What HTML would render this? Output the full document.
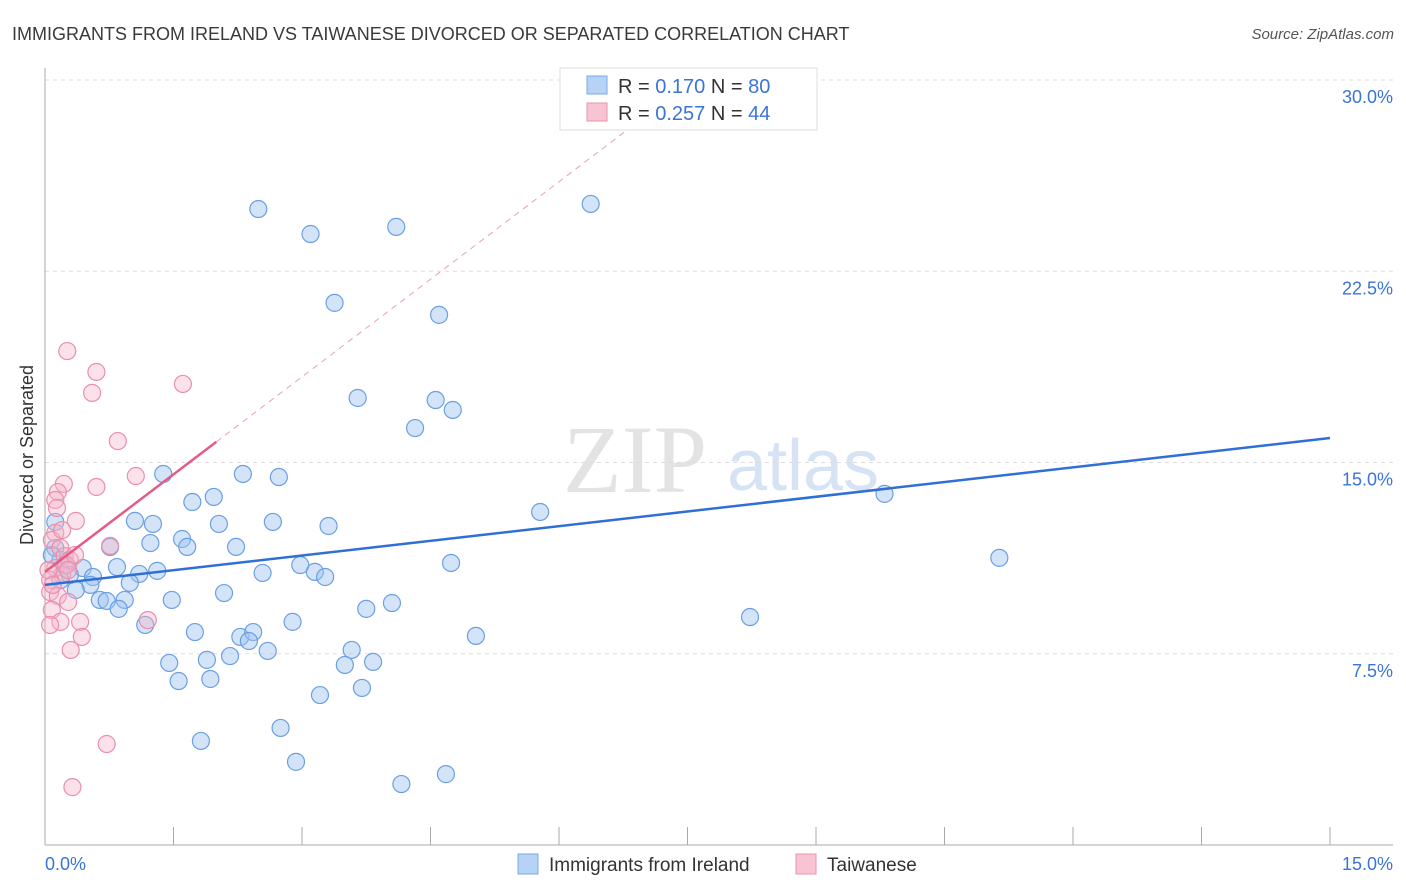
<!DOCTYPE html>
<html><head><meta charset="utf-8"><style>
body{margin:0;background:#fff;font-family:"Liberation Sans",sans-serif}
svg{display:block}
</style></head><body>
<svg id="c" width="1406" height="892">
<text x="12" y="40" font-size="18" fill="#3a3a3a">IMMIGRANTS FROM IRELAND VS TAIWANESE DIVORCED OR SEPARATED CORRELATION CHART</text>
<text x="1394" y="39" font-size="15" fill="#555" font-style="italic" text-anchor="end">Source: ZipAtlas.com</text>
<text x="33" y="455" font-size="18" fill="#333" text-anchor="middle" transform="rotate(-90 33 455)">Divorced or Separated</text>
<g>
<text x="635" y="492" font-size="96" fill="#e3e3e3" font-family="Liberation Serif,serif" text-anchor="middle">ZIP</text>
<text x="803" y="490" font-size="72" fill="#d6e3f5" text-anchor="middle">atlas</text>
</g>
<g id="grid"></g><g id="axes"></g><g id="pts"></g><g id="lines"></g>
<g>
<rect x="560" y="68" width="257" height="62" fill="#fff" stroke="#ddd"/>
<rect x="587" y="76" width="20" height="18" fill="#b6d2f5" stroke="#7aa8e6"/>
<rect x="587" y="103" width="20" height="18" fill="#f8c4d4" stroke="#e993ae"/>
<text x="618" y="93" font-size="20" fill="#333">R = <tspan fill="#3a74d6">0.170</tspan>   N = <tspan fill="#3a74d6">80</tspan></text>
<text x="618" y="120" font-size="20" fill="#333">R = <tspan fill="#3a74d6">0.257</tspan>   N = <tspan fill="#3a74d6">44</tspan></text>
</g>
<g>
<rect x="518" y="854" width="20" height="20" fill="#b6d2f5" stroke="#7aa8e6"/>
<text x="549" y="871" font-size="19" fill="#333">Immigrants from Ireland</text>
<rect x="796" y="854" width="20" height="20" fill="#f8c4d4" stroke="#e993ae"/>
<text x="827" y="871" font-size="19" fill="#333">Taiwanese</text>
</g>
</svg>
<script>
const yTicks=[7.5,15,22.5,30];
const yTickLabels=["7.5%","15.0%","22.5%","30.0%"];
const blueX=[2.49,3.10,4.10,6.37,3.38,4.60,3.65,4.56,4.76,4.32,1.38,2.31,2.73,1.72,1.97,5.78,9.80,1.05,1.26,2.03,2.66,3.31,1.23,1.60,1.66,2.23,0.76,11.14,4.74,2.98,3.15,3.27,2.54,1.10,1.31,0.84,0.44,0.56,0.53,0.99,0.36,2.09,1.48,0.64,0.72,0.93,0.86,4.05,3.75,1.17,2.89,1.75,2.28,2.43,2.38,5.03,8.23,3.58,2.60,1.89,2.16,1.45,3.50,3.83,1.56,1.93,3.70,3.21,2.75,1.82,2.93,4.16,4.68,0.12,0.12,0.18,0.23,0.29,0.18,0.08];
const blueY=[24.94,23.96,24.24,25.14,21.26,20.79,17.53,17.45,17.06,16.35,14.55,14.55,14.43,13.45,13.65,13.06,13.77,12.71,12.59,12.59,12.67,12.51,11.84,12.00,11.69,11.69,11.69,11.26,11.06,10.98,10.71,10.51,10.67,10.63,10.75,10.90,10.86,10.51,10.20,10.28,10.00,9.88,9.61,9.61,9.57,9.61,9.26,9.49,9.26,8.63,8.75,8.35,8.16,8.35,8.00,8.20,8.94,7.65,7.61,7.26,7.41,7.14,7.06,7.18,6.43,6.51,6.16,5.88,4.59,4.08,3.26,2.39,2.78,12.67,11.65,11.18,10.98,10.59,10.39,11.37];
const pinkX=[0.26,0.60,0.55,1.61,0.85,1.06,0.22,0.60,0.15,0.12,0.14,0.36,0.12,0.08,0.18,0.23,0.29,0.12,0.20,0.06,0.06,0.15,0.27,0.08,1.20,0.41,0.18,0.06,0.43,0.30,0.72,0.32,0.76,0.25,0.04,0.09,0.35,0.20,0.27];
const pinkY=[19.37,18.55,17.73,18.08,15.84,14.47,14.16,14.04,13.84,13.53,13.22,12.71,12.24,11.96,11.65,11.33,11.18,10.86,10.59,10.39,9.92,9.77,9.53,9.22,8.82,8.75,8.75,8.63,8.16,7.65,3.96,2.27,11.73,10.98,10.78,10.20,11.37,12.35,10.78];
const blueTrend=[10.20,15.96];
const pinkTrend=[10.71,2.55];
const NS="http://www.w3.org/2000/svg";
const X0=45,X1=1330,Y0=845,Y30=80;
const sx=v=>X0+v/15*(X1-X0);
const sy=v=>Y0-v/30*(Y0-Y30);
function mk(t,a,p){const e=document.createElementNS(NS,t);for(const k in a)e.setAttribute(k,a[k]);p.appendChild(e);return e;}
const grid=document.getElementById('grid'),axes=document.getElementById('axes'),pts=document.getElementById('pts'),lines=document.getElementById('lines');
yTicks.forEach((t,i)=>{
 const g=mk('line',{x1:X0,x2:1393,y1:sy(t),y2:sy(t),stroke:'#ddd','stroke-dasharray':'4,4'},grid);
 
 
 const l=mk('text',{x:1393,y:sy(t)+23,'font-size':18,fill:'#3a74d6','text-anchor':'end'},axes);
 l.textContent=yTickLabels[i];
 
 
});
mk('line',{x1:X0,x2:X0,y1:68,y2:Y0,stroke:'#aaa'},axes);
mk('line',{x1:X0,x2:1393,y1:Y0,y2:Y0,stroke:'#aaa'},axes);
for(let i=0;i<=10;i++){const x=sx(i*1.5);mk('line',{x1:x,x2:x,y1:Y0,y2:827,stroke:'#aaa'},axes);}
const xl=mk('text',{x:45,y:870,'font-size':18,fill:'#3a74d6'},axes);xl.textContent='0.0%';


const xr=mk('text',{x:1393,y:870,'font-size':18,fill:'#3a74d6','text-anchor':'end'},axes);xr.textContent='15.0%';


blueX.forEach((v,i)=>{
 const c=mk('circle',{cx:sx(v),cy:sy(blueY[i]),r:8.5,fill:'rgba(160,196,240,0.45)',stroke:'#6b9fe3','stroke-width':1.2},pts);
 
 
});
pinkX.forEach((v,i)=>{
 const c=mk('circle',{cx:sx(v),cy:sy(pinkY[i]),r:8.5,fill:'rgba(246,180,200,0.4)',stroke:'#ea8fac','stroke-width':1.2},pts);
 
 
});
const bl=mk('line',{x1:sx(0),y1:sy(blueTrend[0]),x2:sx(15),y2:sy(blueTrend[1]),stroke:'#2f6fd6','stroke-width':2.5},lines);


const pe=v=>pinkTrend[0]+pinkTrend[1]*v;
const pl=mk('line',{x1:sx(0),y1:sy(pe(0)),x2:sx(2.0),y2:sy(pe(2.0)),stroke:'#e45c86','stroke-width':2.5},lines);


const pd=mk('line',{x1:sx(2.0),y1:sy(pe(2.0)),x2:sx(7.0),y2:sy(pe(7.0)),stroke:'#eaa0b8','stroke-width':1,'stroke-dasharray':'6,5'},lines);


</script>
</body></html>
